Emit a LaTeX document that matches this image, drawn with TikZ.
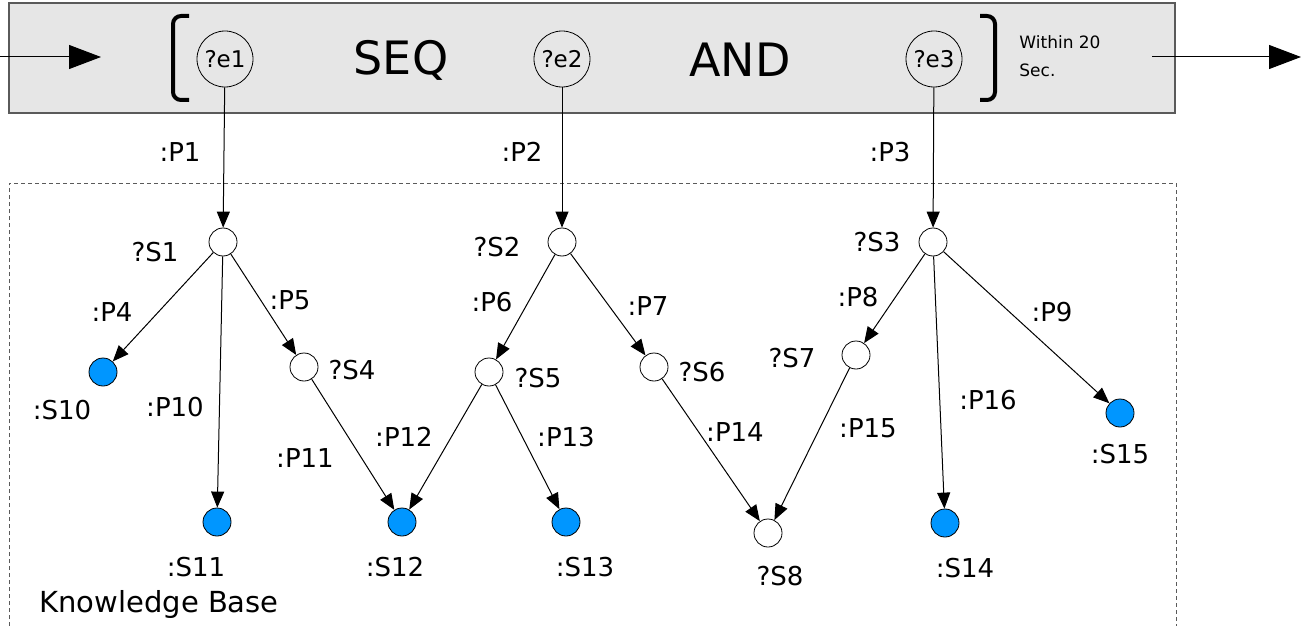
\documentclass[tikz,border=0pt]{standalone}
\usepackage{fontspec}
\setmainfont{DejaVu Sans}
\usetikzlibrary{arrows.meta}

\definecolor{kbblue}{RGB}{0,150,255}
\definecolor{boxgray}{RGB}{230,230,230}
\definecolor{boxline}{RGB}{90,90,90}

\tikzset{
  var/.style={circle,draw,fill=white,minimum size=14pt,inner sep=0pt,line width=0.4pt},
  res/.style={var,fill=kbblue},
  evt/.style={circle,draw,minimum size=28pt,inner sep=0pt,line width=0.4pt,
    font=\fontsize{11.5}{13}\selectfont},
  lbl/.style={inner sep=0pt,font=\fontsize{13}{15}\selectfont},
  op/.style={inner sep=0pt,font=\fontsize{23}{26}\selectfont},
  edge/.style={-{Triangle[length=8pt,width=6.5pt]},line width=0.5pt},
  flow/.style={-{Triangle[length=16pt,width=12pt]},line width=0.5pt},
}

\begin{document}
\begin{tikzpicture}[x=0.5pt,y=-0.5pt]
\useasboundingbox (0,0) rectangle (1301,626);

% event pattern
\draw[boxline,fill=boxgray,line width=0.8pt] (9,3) rectangle (1175,113);
\draw[line width=2pt,rounded corners=4pt] (189,16) -- (173,16) -- (173,100) -- (189,100);
\draw[line width=2pt,rounded corners=4pt] (980,16) -- (995,16) -- (995,100) -- (980,100);

\node[evt] (e1) at (225,59) {?e1};
\node[evt] (e2) at (562,59) {?e2};
\node[evt] (e3) at (934,59) {?e3};
\node[op] (seq) at (401,60) {SEQ};
\node[op] (and) at (740,60) {AND};
\node[anchor=west,align=left,inner sep=0pt,font=\fontsize{8.5}{14}\selectfont] (within) at (1019,56) {Within 20\\Sec.};

\coordinate (src) at (0,57);
\coordinate (srctip) at (101,57);
\coordinate (sink) at (1152,57);
\coordinate (sinktip) at (1301,57);
\draw[flow] (src) -- (srctip);
\draw[flow] (sink) -- (sinktip);

% knowledge base
\draw[boxline,dashed,dash pattern=on 2pt off 1.5pt,line width=0.4pt]
  (9,640) -- (9,183) -- (1176,183) -- (1176,640);
\node[anchor=west,inner sep=0pt,font=\fontsize{14.5}{17}\selectfont] (kb) at (39,604) {Knowledge Base};

\node[var] (s1) at (223,242) {};
\node[var] (s2) at (562,242) {};
\node[var] (s3) at (933,242) {};
\node[var] (s4) at (304,367) {};
\node[var] (s5) at (489,372) {};
\node[var] (s6) at (654,367) {};
\node[var] (s7) at (856,355) {};
\node[var] (s8) at (768,533) {};
\node[res] (s10) at (103,372) {};
\node[res] (s11) at (217,522) {};
\node[res] (s12) at (402,522) {};
\node[res] (s13) at (566,522) {};
\node[res] (s14) at (945,523) {};
\node[res] (s15) at (1120,413) {};

% node names
\node[lbl] (ls1) at (155,252) {?S1};
\node[lbl] (ls2) at (497,247) {?S2};
\node[lbl] (ls3) at (877,242) {?S3};
\node[lbl] (ls4) at (352,370) {?S4};
\node[lbl] (ls5) at (538,378) {?S5};
\node[lbl] (ls6) at (702,372) {?S6};
\node[lbl] (ls7) at (792,358) {?S7};
\node[lbl] (ls8) at (780,576) {?S8};
\node[lbl] (ls10) at (62,410) {:S10};
\node[lbl] (ls11) at (196,567) {:S11};
\node[lbl] (ls12) at (395,567) {:S12};
\node[lbl] (ls13) at (585,567) {:S13};
\node[lbl] (ls14) at (965,568) {:S14};
\node[lbl] (ls15) at (1120,454) {:S15};

% predicates
\node[lbl] (p1) at (180,152) {:P1};
\node[lbl] (p2) at (522,152) {:P2};
\node[lbl] (p3) at (890,152) {:P3};
\node[lbl] (p4) at (112,312) {:P4};
\node[lbl] (p5) at (290,300) {:P5};
\node[lbl] (p6) at (492,302) {:P6};
\node[lbl] (p7) at (648,306) {:P7};
\node[lbl] (p8) at (858,297) {:P8};
\node[lbl] (p9) at (1052,312) {:P9};
\node[lbl] (p10) at (175,407) {:P10};
\node[lbl] (p11) at (305,458) {:P11};
\node[lbl] (p12) at (404,437) {:P12};
\node[lbl] (p13) at (566,437) {:P13};
\node[lbl] (p14) at (735,432) {:P14};
\node[lbl] (p15) at (868,428) {:P15};
\node[lbl] (p16) at (988,400) {:P16};

\draw[edge] (e1) -- (s1);
\draw[edge] (e2) -- (s2);
\draw[edge] (e3) -- (s3);
\draw[edge] (s1) -- (s10);
\draw[edge] (s1) -- (s11);
\draw[edge] (s1) -- (s4);
\draw[edge] (s4) -- (s12);
\draw[edge] (s2) -- (s5);
\draw[edge] (s2) -- (s6);
\draw[edge] (s5) -- (s12);
\draw[edge] (s5) -- (s13);
\draw[edge] (s6) -- (s8);
\draw[edge] (s7) -- (s8);
\draw[edge] (s3) -- (s7);
\draw[edge] (s3) -- (s14);
\draw[edge] (s3) -- (s15);

\end{tikzpicture}
\end{document}
